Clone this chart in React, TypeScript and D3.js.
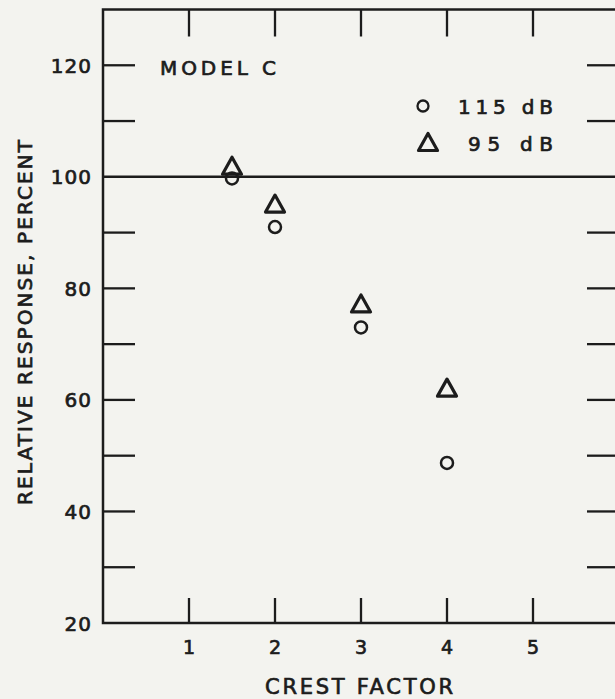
import React from "react";
import * as d3 from "d3";

// Crest factor values at which the response was measured
const crestFactors = [1.5, 2, 3, 4];
// Relative response (percent) at 115 dB
const response115 = [99.7, 91, 73, 48.7];
// Relative response (percent) at 95 dB
const response95 = [102, 95.2, 77.3, 62.2];

const xTickValues = [1, 2, 3, 4, 5];
const yLabelValues = [20, 40, 60, 80, 100, 120];
const yTickValues = [30, 40, 50, 60, 70, 80, 90, 110, 120];

const W = 615;
const H = 699;
const INK = "#1c1c1c";
const FONT = "'DejaVu Sans', 'Liberation Sans', sans-serif";

const x = d3.scaleLinear().domain([0, 6]).range([103, 619]);
const y = d3.scaleLinear().domain([20, 130]).range([623, 9.5]);

function trianglePath(cx: number, cy: number, w = 19, h = 17) {
  const p = d3.path();
  p.moveTo(cx, cy - h / 2);
  p.lineTo(cx + w / 2, cy + h / 2);
  p.lineTo(cx - w / 2, cy + h / 2);
  p.closePath();
  return p.toString();
}

// medium-weight lettering: regular face with a thin outline
const ink = { fill: INK, stroke: INK, strokeWidth: 0.7 };

export default function App() {
  const [x0, x1] = x.range();
  const [y0, y1] = y.range();
  const tickIn = 32;
  return (
    <svg
      width={W}
      height={H}
      style={{ position: "absolute", left: 0, top: 0, background: "#f3f3ef" }}
      fontFamily={FONT}
    >
      <rect x={0} y={0} width={W} height={H} fill="#f3f3ef" />
      {/* frame */}
      <rect
        x={x0}
        y={y1}
        width={x1 - x0}
        height={y0 - y1}
        fill="none"
        stroke={INK}
        strokeWidth={2.5}
      />
      {/* 100 percent reference line */}
      <line x1={x0} x2={x1} y1={y(100)} y2={y(100)} stroke={INK} strokeWidth={2.5} />

      {/* y ticks, left and right, inward */}
      {yTickValues.map((v) => (
        <g key={"yt" + v}>
          <line x1={x0} x2={x0 + tickIn} y1={y(v)} y2={y(v)} stroke={INK} strokeWidth={2.3} />
          <line x1={x1 - tickIn} x2={x1} y1={y(v)} y2={y(v)} stroke={INK} strokeWidth={2.3} />
        </g>
      ))}
      {/* x ticks, top and bottom, inward */}
      {xTickValues.map((v) => (
        <g key={"xt" + v}>
          <line x1={x(v)} x2={x(v)} y1={y0} y2={y0 - 25} stroke={INK} strokeWidth={2.3} />
          <line x1={x(v)} x2={x(v)} y1={y1} y2={y1 + 27} stroke={INK} strokeWidth={2.3} />
        </g>
      ))}

      {/* y tick labels */}
      {yLabelValues.map((v) => (
        <text
          key={"yl" + v}
          x={92}
          y={y(v) + 7.5}
          textAnchor="end"
          fontSize={20}
          letterSpacing={1}
          {...ink}
        >
          {v}
        </text>
      ))}
      {/* x tick labels */}
      {xTickValues.map((v) => (
        <text key={"xl" + v} x={x(v)} y={654} textAnchor="middle" fontSize={19} {...ink}>
          {v}
        </text>
      ))}

      {/* axis titles */}
      <text
        x={359}
        y={694}
        textAnchor="middle"
        fontSize={21}
        textLength={188}
        lengthAdjust="spacing"
        {...ink}
      >
        CREST FACTOR
      </text>
      <text
        transform={`translate(32, ${(140 + 505) / 2}) rotate(-90)`}
        textAnchor="middle"
        fontSize={20}
        textLength={365}
        lengthAdjust="spacing"
        {...ink}
      >
        RELATIVE RESPONSE, PERCENT
      </text>

      {/* panel title */}
      <text x={160} y={75} fontSize={20} textLength={116} lengthAdjust="spacing" {...ink}>
        MODEL C
      </text>

      {/* legend */}
      <circle cx={423} cy={106} r={5.5} fill="none" stroke={INK} strokeWidth={2.3} />
      <text x={458} y={114} fontSize={20} textLength={95} lengthAdjust="spacing" {...ink}>
        115 dB
      </text>
      <path d={trianglePath(428, 142)} fill="none" stroke={INK} strokeWidth={3.2} strokeLinejoin="round" />
      <text x={468} y={151} fontSize={20} textLength={85} lengthAdjust="spacing" {...ink}>
        95 dB
      </text>

      {/* 95 dB points */}
      {crestFactors.map((c, i) => (
        <path
          key={"t" + i}
          d={trianglePath(x(c), y(response95[i]))}
          fill="none"
          stroke={INK}
          strokeWidth={3.2}
          strokeLinejoin="round"
        />
      ))}
      {/* 115 dB points */}
      {crestFactors.map((c, i) => (
        <circle
          key={"c" + i}
          cx={x(c)}
          cy={y(response115[i])}
          r={6}
          fill="none"
          stroke={INK}
          strokeWidth={2.5}
        />
      ))}
    </svg>
  );
}
